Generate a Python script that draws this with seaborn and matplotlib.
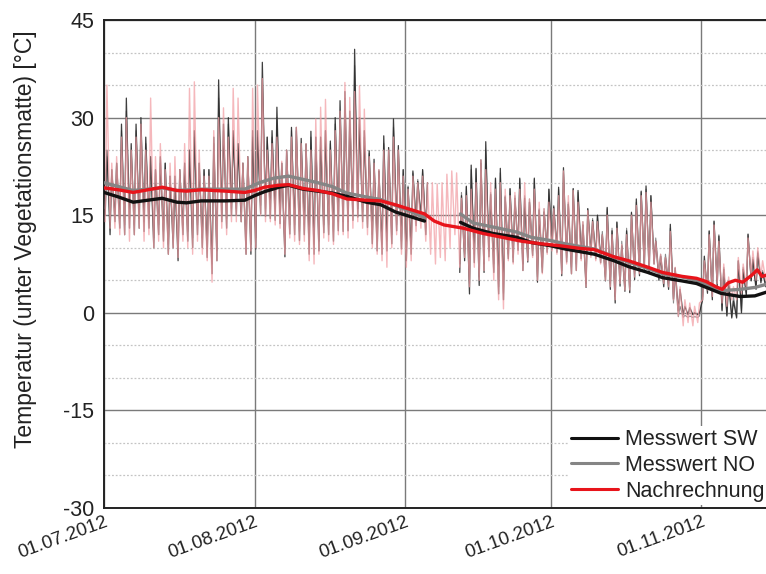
import numpy as np
import pandas as pd
import matplotlib
matplotlib.use("Agg")
import matplotlib.pyplot as plt
import matplotlib.dates as mdates
from matplotlib.lines import Line2D
from matplotlib.ticker import MultipleLocator
import seaborn as sns

nan = np.nan
START = "2012-07-01"

# ---- daily maxima / minima (thin lines), day 0 = 01.07.2012 ----
sw_max = [25, 22, 23, 29, 33, 26, 29, 30, 27, 24,
          22, 24, 23, 21, 21, 22, 23, 25, 28, 23,
          22, 22, 27, 35.8, 29, 30, 28, 26, 23, 24,
          28, 28, 38.5, 27, 28, 31.6, 23, 25, 28.5, 28.5,
          26.8, 25.9, 27.9, 27, 27, 28, 26.4, 30, 32.6, 34,
          31, 40.5, 30, 28, 24.9, 23.6, 21.8, 27.2, 25.4, 29.8,
          25.7, 22, 19.3, 21.8, 20.2, 22, 20, nan, nan, nan,
          nan, nan, nan, 18, 19.4, 22.7, 22.2, 23.5, 26.3, 18.2,
          20.7, 22.2, 17.8, 19.1, 17.6, 20.7, 17.6, 17, 20.7, 15.8,
          15.5, 19, 16.3, 19.3, 22.3, 16.7, 19.1, 18.8, 13.5, 16,
          14.2, 15, 12, 16.2, 12.6, 13.9, 10.3, 12.6, 15.4, 17.5,
          18.7, 19.5, 18, 11, 8.7, 8.5, 13.6, 6.9, 3.6, 1,
          0.8, 0, 0, 8.7, 12.6, 14.1, 11.8, 6.7, 4.6, 1.8,
          8, 6.7, 12.1, 8.2, 9.2, 6.2, 5, 6]
sw_min = [15, 12, 14, 13, 12, 13, 12, 13, 12.5, 13,
          10, 12, 11, 9, 10, 8, 12, 11, 10, 12,
          10, 8.5, 6, 8, 14, 13, 15, 15, 14, 9,
          9, 9.8, 15.2, 14.8, 14.5, 14.2, 13.7, 8.6, 12.1, 12,
          11.1, 12, 9, 9, 9.5, 12.3, 12, 11, 12.6, 12.5,
          12.6, 14.2, 14.7, 14, 13.1, 10.6, 9.5, 9, 9.5, 10.6,
          12.6, 9.8, 8, 9, 13.4, 14.3, 12, nan, nan, nan,
          nan, nan, nan, 6.2, 8, 2.9, 7.7, 4.2, 6.2, 8.6,
          6.2, 2.9, 2, 8.3, 7.8, 9.6, 6.5, 7.8, 8.8, 4.7,
          6.2, 9.3, 9.8, 9.3, 5.7, 7.8, 6, 6.5, 8.3, 3.9,
          8.8, 8.3, 7.7, 4.9, 3.6, 1.5, 4.1, 3.3, 3.1, 5.1,
          5.7, 6.7, 6, 7.5, 5, 4, 3.6, 2.1, 0.3, -0.3,
          -0.3, -0.3, -0.3, 2, 3, 2, 4.1, 0.3, -0.5, -0.8,
          -0.8, 0, 2.6, 4.9, 3.6, 4.6, 4, 4]
no_max = [24, 22, 23, 28, 31, 25, 28, 29, 26, 24,
          22, 23, 23, 21, 21, 22, 23, 25, 27, 23,
          22, 22, 26, 33, 28, 29, 27, 26, 23, 24,
          27, 27, 36, 27, 27, 30, 23, 25, 28, 28,
          26, 26, 27, 27, 27, 28, 26, 29, 31, 33,
          30, 38, 29, 27, 24.5, 23, 22, 26, 25, 28.5,
          25, 22, 19.5, 21.5, 20.5, 22, 20, nan, nan, nan,
          nan, nan, nan, 18.5, 19.5, 22, 22, 23, 25, 18.5,
          20.5, 21.5, 18, 19, 18, 20.5, 18, 17.5, 20.5, 16,
          16, 19, 16.5, 19, 21.5, 17, 19, 18.5, 14, 16,
          14.5, 15, 12.5, 16, 13, 14, 11, 13, 15.5, 17,
          18.5, 19, 18, 11.5, 9, 9, 13, 6, 1, -0.4,
          -0.5, -0.6, -0.5, 8, 12.5, 14, 12, 7, 5, 2.5,
          8, 7, 12, 8.5, 9.5, 6.5, 5.5, 6.5]
no_min = [16, 13.5, 15, 14.5, 13.5, 14.5, 13.5, 14.5, 14, 14.5,
          11.5, 13.5, 12.5, 10.5, 11.5, 9.5, 13.5, 12.5, 11.5, 13.5,
          11.5, 10, 7.5, 9.5, 15, 14.5, 16, 16, 15.5, 10.5,
          10.5, 11.5, 16.5, 16, 16, 15.5, 15, 10, 13.5, 13.5,
          12.5, 13.5, 10.5, 10.5, 11, 13.5, 13.5, 12.5, 14, 14,
          14, 15.5, 16, 15.5, 14.5, 12, 11, 10.5, 11, 12,
          13.5, 11, 9.5, 10.5, 14.5, 15, 13, nan, nan, nan,
          nan, nan, nan, 7.5, 9, 4.5, 9, 5.5, 7.5, 9.5,
          7.5, 4, 3, 9, 8.5, 10.5, 7.5, 8.5, 9.5, 5.5,
          7, 10, 10.5, 10, 6.5, 8.5, 7, 7.5, 9, 4.5,
          9.5, 9, 8.5, 5.5, 4.5, 2.5, 5, 4, 4, 6,
          6.5, 7.5, 7, 8, 6, 5, 4.5, 1.5, -0.6, -0.7,
          -0.7, -0.7, -0.7, 2.5, 3.5, 2.5, 4.5, 0.5, -0.3, -0.6,
          -0.6, 0.3, 3, 5, 4, 5, 4.5, 4.5]
calc_max = [35, 23, 24, 27, 30, 25, 27, 29, 25, 33,
            24, 26, 22, 23, 24, 22, 26, 34.5, 35.5, 25,
            21, 21, 28, 30, 31.5, 27, 34.5, 33, 23, 24,
            34.5, 35, 36, 25, 26, 27, 23.3, 25, 27, 28.5,
            26, 26, 25, 29.8, 31.6, 32.8, 25, 28, 31, 35.4,
            33.1, 34, 34.9, 31.3, 24, 23, 22, 25, 25, 27,
            25, 21, 19, 21, 20, 21, 20, 20, 19.8, 20,
            21.3, 21.8, 21.5, 17.6, 18, 19, 20, 23.5, 22, 20,
            19, 20, 19, 18, 18.5, 19, 20, 17.5, 19, 17,
            16, 17, 16, 18, 21.8, 18, 18.8, 17, 14, 15.7,
            14, 14, 12, 15, 12, 13, 10.5, 12, 15, 16.5,
            18, 18.5, 17, 11, 9, 8.5, 12.5, 7, 4, 2,
            1.5, 1, 1.5, 8, 12, 13.5, 11, 7.5, 5.5, 4,
            8.5, 7.5, 11.5, 9.5, 10, 8, 7, 7]
calc_min = [14, 13, 13, 12, 12, 11, 12, 13, 11, 12,
            10, 11, 10, 9, 10, 8.5, 11, 10, 9, 11,
            9, 8, 4.7, 8, 13, 12, 14, 14, 14, 9,
            9.5, 10, 15, 14, 14, 13.5, 13, 9, 11.5, 11,
            10.5, 11, 8, 7.5, 9, 11.5, 11, 10.5, 12, 12,
            11.5, 13, 14, 13, 12, 10, 9, 8, 7, 10,
            12, 9, 7, 8, 12.5, 13, 11, 9, 7.5, 8.5,
            8, 10, 12, 7, 8.5, 4, 7, 5, 6.5, 8,
            5, 2, 0.6, 8, 7.5, 9, 6.5, 8, 8.5, 5,
            6, 9, 9.5, 9, 6, 7.5, 6, 6.5, 8, 4,
            8.5, 8, 7.5, 5, 4, 2, 4.5, 3.5, 3.5, 5.5,
            6, 7, 6.5, 7.5, 5.5, 4.5, 4, 2, -0.5, -2,
            -1.5, -2, -1.5, 2, 3.5, 2.5, 4.5, 1.5, 1, 2,
            2, 3, 4, 5.5, 5, 5.5, 5, 5]

# ---- smoothed curves (thick lines): day offsets and values ----
sw_sm_day = [0, 3, 6, 9, 12, 15, 17, 20, 25, 29, 31, 33, 36, 38, 41, 44, 47, 50, 54, 57, 60, 63, 66,
             69,
             73.4, 76, 80, 85, 88, 92, 95, 98, 101, 105, 108, 112, 115, 119, 122, 125, 127, 131, 134, 136.5]
sw_sm_val = [18.5, 17.8, 17.0, 17.3, 17.6, 17.0, 16.9, 17.2, 17.2, 17.3, 18.0, 18.6, 19.3, 19.6, 19.0, 18.7, 18.4, 17.9, 17.0, 16.6, 15.5, 14.8, 14.1,
             nan,
             13.9, 13.0, 12.2, 11.6, 10.8, 10.3, 9.8, 9.4, 9.0, 8.0, 7.1, 6.2, 5.4, 4.9, 4.5, 3.6, 3.0, 2.5, 2.6, 3.2]
no_sm_day = [0, 3, 6, 9, 12, 15, 20, 25, 29, 32, 35, 38, 41, 44, 47, 50, 54, 57, 60, 63, 66,
             69,
             73.4, 76, 80, 85, 88, 92, 95, 98, 101, 105, 108, 112, 115, 119, 122, 125, 127, 131, 134, 136.5]
no_sm_val = [20.0, 19.4, 18.8, 19.0, 19.2, 18.8, 19.0, 19.0, 19.0, 20.0, 20.7, 21.0, 20.5, 20.0, 19.4, 18.4, 17.8, 17.4, 16.5, 15.6, 14.6,
             nan,
             15.2, 13.8, 13.2, 12.4, 11.6, 11.1, 10.6, 10.2, 9.8, 8.6, 7.8, 6.8, 6.0, 5.5, 5.0, 4.0, 3.4, 3.6, 3.9, 4.4]
calc_sm_day = [0, 3, 6, 9, 12, 15, 17, 20, 25, 29, 31, 33, 36, 38, 41, 44, 47, 50, 54, 57, 60, 63, 66, 68, 70, 74,
               78, 82, 86, 90, 94, 98, 101, 105, 108, 112, 115, 119, 122, 124, 126, 127.3, 128.5, 130, 131.5,
               133.4, 134.5, 135.5, 136.5]
calc_sm_val = [19.2, 18.9, 18.5, 18.9, 19.3, 18.8, 18.7, 18.9, 18.7, 18.5, 18.8, 19.3, 19.6, 19.7, 19.1, 18.8, 18.3, 17.5, 17.3, 17.2, 16.6, 15.9, 15.2, 14.1, 13.5, 13.0,
               12.2, 11.6, 11.0, 10.6, 10.3, 9.9, 9.7, 8.6, 8.0, 7.0, 6.2, 5.6, 5.3, 4.8, 4.0, 3.6, 4.6, 5.0, 4.7,
               5.8, 6.6, 5.6, 5.8]

series_names = ["Messwert SW", "Messwert NO", "Nachrechnung"]
colors_thick = ["#111111", "#858585", "#e8141b"]


def to_time(days):
    return pd.Timestamp(START) + pd.to_timedelta(np.asarray(days, dtype=float), unit="D")


def thin_frame(mx, mn):
    d = np.arange(len(mx), dtype=float)
    t = np.empty(2 * len(mx))
    v = np.empty(2 * len(mx))
    t[0::2] = d + 0.25
    t[1::2] = d + 0.6
    v[0::2] = mn
    v[1::2] = mx
    return pd.DataFrame({"time": to_time(t), "value": v})


def segments(df):
    ok = df["value"].notna()
    seg = (~ok).cumsum()
    return [g for _, g in df[ok].groupby(seg[ok])]


sns.set_theme(style="white")
plt.rcParams["font.family"] = ["Liberation Sans", "DejaVu Sans"]
plt.rcParams["axes.unicode_minus"] = False

fig = plt.figure(figsize=(7.66, 5.74), dpi=100)
ax = fig.add_axes([104 / 766, 1 - 508 / 574, 1 - 104 / 766, (508 - 20) / 574])

# thin lines: measured underneath, calculation (pink) on top
thin_specs = [
    (no_max, no_min, "#8c8c8c", 0.8, 1.0),
    (sw_max, sw_min, "#2a2a2a", 0.9, 0.9),
    (calc_max, calc_min, "#f2a0a6", 1.0, 0.75),
]
for mx, mn, c, lw, al in thin_specs:
    for seg in segments(thin_frame(mx, mn)):
        sns.lineplot(data=seg, x="time", y="value", ax=ax, color=c, linewidth=lw,
                     alpha=al, estimator=None, sort=False, legend=False, zorder=3)

# thick smoothed lines
for days, vals, c in [(no_sm_day, no_sm_val, colors_thick[1]),
                      (sw_sm_day, sw_sm_val, colors_thick[0]),
                      (calc_sm_day, calc_sm_val, colors_thick[2])]:
    df = pd.DataFrame({"time": to_time(days), "value": vals})
    for seg in segments(df):
        sns.lineplot(data=seg, x="time", y="value", ax=ax, color=c, linewidth=2.4,
                     estimator=None, sort=False, legend=False, zorder=4)

ax.set_xlim(to_time([0])[0], to_time([136.3])[0])
ax.set_ylim(-30, 45)
ax.yaxis.set_major_locator(MultipleLocator(15))
ax.yaxis.set_minor_locator(MultipleLocator(5))
ax.xaxis.set_major_locator(mdates.MonthLocator())
ax.xaxis.set_major_formatter(mdates.DateFormatter("%d.%m.%Y"))

ax.grid(which="major", axis="both", color="#7a7a7a", linewidth=1.0, zorder=0)
ax.grid(which="minor", axis="y", color="#c4c4c4", linewidth=0.9, linestyle=(0, (1.5, 1.5)), zorder=0)
ax.set_axisbelow(True)

for side in ["left", "bottom", "top"]:
    ax.spines[side].set_visible(True)
    ax.spines[side].set_color("#222222")
    ax.spines[side].set_linewidth(1.4)
ax.spines["right"].set_visible(False)

ax.tick_params(axis="both", which="both", length=0)
ax.tick_params(axis="y", labelsize=15.5, pad=7, colors="#222222")
ax.tick_params(axis="x", labelsize=13.5, pad=4, colors="#222222")
for lab in ax.get_xticklabels():
    lab.set_rotation(20)
    lab.set_ha("right")
    lab.set_rotation_mode("anchor")

ax.set_xlabel("")
ax.set_ylabel("Temperatur (unter Vegetationsmatte) [°C]", fontsize=16.5, color="#222222", labelpad=6)
ax.yaxis.set_label_coords(-0.101, 0.55)

handles = [Line2D([0], [0], color=colors_thick[i], linewidth=2.2) for i in range(3)]
leg = ax.legend(handles, series_names, loc="lower right", fontsize=15.5, frameon=True,
                facecolor="white", edgecolor="none", framealpha=1.0, handlelength=2.2,
                handletextpad=0.3, labelspacing=0.22, borderaxespad=0.05, borderpad=0.15,
                bbox_to_anchor=(1.004, 0.004))
leg.set_zorder(10)
for t in leg.get_texts():
    t.set_color("#222222")

fig.savefig("out.png", dpi=100)
